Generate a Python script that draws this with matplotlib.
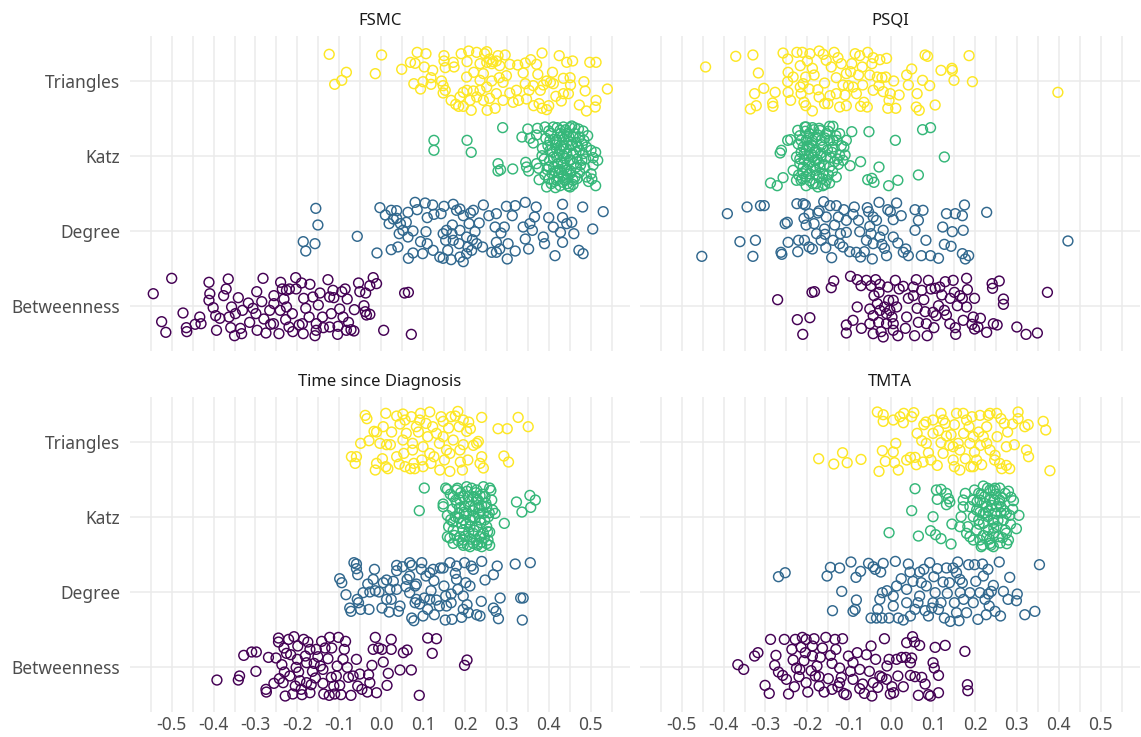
import matplotlib
matplotlib.use("Agg")
import matplotlib.pyplot as plt
import numpy as np

plt.rcParams['font.family'] = ['Noto Sans', 'DejaVu Sans']
plt.rcParams['axes.unicode_minus'] = False

categories = ["Betweenness", "Degree", "Katz", "Triangles"]
colors = ["#440154", "#31688E", "#35B779", "#FDE725"]
facets = ["FSMC", "PSQI", "Time since Diagnosis", "TMTA"]
x_ticks = [-0.5, -0.4, -0.3, -0.2, -0.1, 0.0, 0.1, 0.2, 0.3, 0.4, 0.5]
x_tick_labels = ["-0.5", "-0.4", "-0.3", "-0.2", "-0.1", "0.0", "0.1", "0.2", "0.3", "0.4", "0.5"]

# (correlation, vertical jitter) pairs
FSMC_TRIANGLES = [(-0.124,0.356),(0.001,0.347),(-0.083,0.116),(-0.094,0.009),(-0.111,-0.044),(-0.014,0.098),(0.049,0.156),(0.086,0.382),(0.107,0.364),(0.070,0.249),(0.081,0.236),(0.123,0.142),(0.103,0.187),(0.150,0.338),(0.150,0.267),(0.172,0.249),(0.153,0.178),(0.174,0.187),(0.119,0.044),(0.078,-0.036),(0.094,-0.107),(0.100,-0.009),(0.119,-0.044),(0.144,0.0),(0.148,-0.062),(0.153,-0.124),(0.148,-0.160),(0.167,-0.258),(0.178,-0.311),(0.185,-0.338),(0.196,-0.338),(0.215,-0.391),(0.253,-0.391),(0.272,-0.364),(0.191,0.364),(0.209,0.400),(0.228,0.382),(0.252,0.391),(0.279,0.338),(0.296,0.347),(0.205,0.258),(0.221,0.116),(0.236,0.231),(0.244,0.098),(0.252,0.249),(0.264,0.231),(0.275,0.267),(0.283,0.204),(0.307,0.222),(0.326,0.213),(0.344,0.240),(0.357,0.284),(0.371,0.222),(0.384,0.373),(0.425,0.338),(0.443,0.249),(0.457,0.267),(0.498,0.249),(0.513,0.249),(0.339,0.107),(0.374,0.089),(0.409,0.116),(0.435,0.036),(0.451,0.044),(0.484,-0.009),(0.540,-0.107),(0.487,-0.133),(0.513,-0.258),(0.490,-0.400),(0.511,-0.347),(0.473,-0.320),(0.452,-0.053),(0.447,-0.169),(0.430,-0.267),(0.417,-0.204),(0.404,-0.018),(0.395,0.0),(0.387,-0.053),(0.363,-0.062),(0.353,-0.124),(0.347,-0.240),(0.364,-0.329),(0.384,-0.364),(0.395,-0.382),(0.400,-0.329),(0.323,-0.124),(0.315,-0.284),(0.307,-0.160),(0.291,-0.018),(0.282,0.044),(0.264,0.0),(0.252,-0.080),(0.236,-0.124),(0.220,-0.133),(0.205,-0.124),(0.196,-0.151),(0.188,-0.213),(0.212,-0.258),(0.228,-0.213),(0.244,-0.258),(0.259,-0.231),(0.275,-0.169),(0.299,0.071),(0.328,-0.258),(0.344,-0.036),(0.377,-0.302),(0.435,-0.169),(0.411,-0.036),(0.380,-0.124),(0.291,-0.258),(0.236,0.009),(0.204,0.053),(0.247,0.364),(0.259,0.293),(0.267,0.258)]

FSMC_KATZ = [(0.126,0.209),(0.126,0.076),(0.205,0.209),(0.215,0.049),(0.290,0.378),(0.279,-0.102),(0.279,-0.200),(0.285,-0.182),(0.314,-0.173),(0.336,0.253),(0.350,0.360),(0.355,0.236),(0.373,0.369),(0.371,0.280),(0.363,0.173),(0.345,-0.084),(0.347,-0.147),(0.352,-0.200),(0.371,-0.102),(0.376,-0.164),(0.377,-0.316),(0.385,0.102),(0.389,-0.040),(0.393,0.236),(0.400,0.333),(0.401,-0.307),(0.395,-0.413),(0.406,-0.369),(0.411,0.387),(0.419,0.209),(0.427,0.342),(0.435,0.387),(0.443,0.298),(0.451,0.378),(0.458,0.253),(0.471,0.360),(0.474,0.253),(0.484,0.209),(0.490,0.120),(0.501,0.076),(0.512,0.049),(0.517,-0.058),(0.506,-0.120),(0.501,-0.236),(0.503,-0.307),(0.512,-0.396),(0.486,-0.156),(0.466,-0.147),(0.463,-0.280),(0.444,-0.369),(0.439,-0.324),(0.427,-0.396),(0.416,-0.422),(0.408,-0.236),(0.412,-0.147),(0.419,-0.013),(0.427,0.076),(0.435,0.138),(0.443,0.031),(0.451,-0.058),(0.435,-0.102),(0.443,-0.191),(0.458,0.031),(0.474,0.076),(0.468,-0.040),(0.479,-0.058),(0.454,0.138),(0.424,-0.218),(0.435,-0.262),(0.451,-0.236),(0.458,-0.324),(0.403,0.076),(0.411,-0.013),(0.400,-0.147),(0.391,-0.253),(0.391,0.387),(0.420,0.378),(0.482,0.333),(0.493,0.271),(0.506,-0.022),(0.462,0.378),(0.432,0.253),(0.447,0.200),(0.466,0.182),(0.416,0.147),(0.474,-0.218),(0.490,-0.280),(0.419,-0.324),(0.451,-0.413),(0.403,0.209),(0.482,0.031),(0.384,0.004),(0.435,0.004),(0.422,-0.102),
    (0.405,0.30),(0.412,0.22),(0.418,0.10),(0.425,0.02),(0.430,-0.08),(0.438,-0.16),(0.445,-0.30),(0.452,-0.20),(0.460,-0.10),(0.465,0.05),(0.455,0.16),(0.448,0.26),(0.440,0.35),(0.428,0.30),(0.420,0.18),(0.409,0.05),(0.402,-0.06),(0.415,-0.20),(0.422,-0.28),(0.433,-0.35),(0.447,-0.40),(0.458,-0.38),(0.468,-0.30),(0.476,-0.12),(0.470,0.12),(0.462,0.30),(0.436,0.22),(0.442,0.10),(0.429,0.14),(0.437,-0.03),(0.450,-0.05),(0.444,-0.24),(0.426,-0.18),(0.413,-0.34),(0.398,0.14),(0.396,-0.18),(0.480,0.16),(0.488,-0.04),(0.495,-0.34),(0.455,0.40)]

FSMC_DEGREE = [(-0.156,0.302),(-0.151,0.080),(-0.186,-0.142),(-0.180,-0.267),(-0.158,-0.169),(-0.057,-0.071),(-0.010,-0.293),(-0.003,0.311),(0.010,0.213),(0.024,0.276),(0.037,0.271),(0.019,0.098),(0.029,0.160),(0.037,0.169),(0.046,0.098),(0.043,-0.036),(0.052,0.009),(0.060,0.116),(0.064,0.249),(0.081,0.382),(0.086,0.284),(0.105,0.373),(0.123,0.347),(0.110,0.178),(0.126,0.222),(0.143,0.231),(0.150,0.329),(0.172,0.356),(0.188,0.293),(0.196,0.204),(0.213,0.240),(0.244,0.347),(0.257,0.204),(0.275,0.231),(0.299,0.329),(0.320,0.338),(0.344,0.382),(0.370,0.320),(0.400,0.178),(0.433,0.356),(0.481,0.320),(0.530,0.258),(0.505,0.027),(0.460,-0.036),(0.428,-0.018),(0.433,0.178),(0.455,0.116),(0.433,-0.151),(0.415,-0.329),(0.472,-0.258),(0.482,-0.302),(0.387,-0.080),(0.390,-0.169),(0.355,0.098),(0.361,0.009),(0.344,-0.107),(0.352,-0.240),(0.320,-0.267),(0.313,0.204),(0.294,0.053),(0.286,-0.027),(0.275,-0.151),(0.283,-0.240),(0.264,-0.284),(0.275,-0.284),(0.301,-0.373),(0.272,0.053),(0.234,0.107),(0.224,-0.009),(0.218,-0.116),(0.228,-0.169),(0.216,-0.258),(0.196,-0.409),(0.188,-0.347),(0.167,-0.382),(0.148,-0.364),(0.140,-0.347),(0.159,-0.258),(0.172,-0.124),(0.170,0.080),(0.188,0.009),(0.204,-0.080),(0.207,-0.213),(0.186,-0.169),(0.169,-0.036),(0.148,-0.036),(0.156,0.009),(0.154,-0.124),(0.124,-0.258),(0.099,-0.302),(0.110,-0.169),(0.107,-0.009),(0.094,-0.142),(0.076,-0.293),(0.065,-0.364),(0.064,-0.080),(0.076,0.0),(0.024,-0.249),(0.040,-0.213),(0.210,0.098),(0.220,0.276),(0.180,0.276),(0.242,-0.213),(0.303,-0.169),(0.339,0.053),(0.411,0.053),(0.443,0.098),(0.366,0.187),(0.204,-0.302)]

FSMC_BETWEENNESS = [(-0.544,0.164),(-0.500,0.369),(-0.524,-0.209),(-0.514,-0.351),(-0.473,-0.093),(-0.465,-0.289),(-0.464,-0.342),(-0.444,-0.244),(-0.433,-0.147),(-0.430,-0.236),(-0.411,0.316),(-0.409,0.164),(-0.411,0.076),(-0.401,-0.022),(-0.395,-0.129),(-0.385,-0.164),(-0.376,0.138),(-0.370,0.227),(-0.365,0.360),(-0.363,-0.147),(-0.359,-0.289),(-0.357,-0.013),(-0.350,-0.396),(-0.341,0.111),(-0.336,-0.298),(-0.333,-0.369),(-0.348,-0.102),(-0.331,-0.058),(-0.317,0.040),(-0.306,-0.031),(-0.297,0.191),(-0.299,-0.102),(-0.296,-0.324),(-0.285,0.058),(-0.282,0.369),(-0.280,-0.173),(-0.275,-0.360),(-0.264,-0.244),(-0.256,0.031),(-0.256,0.138),(-0.244,-0.369),(-0.240,0.316),(-0.236,0.227),(-0.232,0.093),(-0.226,-0.013),(-0.228,-0.182),(-0.219,0.227),(-0.212,-0.102),(-0.211,-0.342),(-0.204,0.378),(-0.203,0.227),(-0.196,-0.253),(-0.190,0.307),(-0.185,0.102),(-0.180,-0.031),(-0.186,-0.369),(-0.170,0.289),(-0.158,-0.396),(-0.155,-0.236),(-0.150,0.013),(-0.146,0.173),(-0.140,-0.147),(-0.138,-0.289),(-0.127,0.351),(-0.123,0.120),(-0.119,-0.102),(-0.113,0.111),(-0.103,-0.271),(-0.104,-0.378),(-0.099,-0.040),(-0.094,0.191),(-0.086,0.227),(-0.081,0.093),(-0.078,-0.218),(-0.072,-0.316),(-0.065,-0.333),(-0.064,-0.049),(-0.054,0.307),(-0.051,0.191),(-0.041,0.004),(-0.038,-0.076),(-0.035,-0.120),(-0.027,-0.111),(-0.027,0.271),(-0.019,0.378),(-0.011,0.298),(-0.037,0.173),(0.006,-0.324),(0.056,0.173),(0.065,0.182),(0.072,-0.378),(-0.163,0.120),(-0.241,-0.058),(-0.266,-0.058),(-0.314,-0.218),(-0.172,-0.147),(-0.091,-0.147),(-0.220,-0.280),(-0.188,-0.236),(-0.123,-0.280),(-0.083,-0.324),(-0.393,-0.324),(-0.257,-0.236),(-0.155,-0.324),(-0.226,0.209),(-0.115,0.209)]

PSQI_TRIANGLES = [(-0.443,0.187),(-0.371,0.329),(-0.330,0.347),(-0.317,0.107),(-0.304,-0.098),(-0.326,-0.169),(-0.336,-0.373),(-0.322,-0.329),(-0.283,-0.293),(-0.282,-0.338),(-0.277,-0.151),(-0.258,0.373),(-0.247,0.293),(-0.246,0.116),(-0.247,-0.009),(-0.246,-0.151),(-0.240,-0.258),(-0.225,0.382),(-0.217,0.204),(-0.212,0.382),(-0.210,-0.036),(-0.215,-0.169),(-0.208,-0.284),(-0.204,-0.329),(-0.200,0.267),(-0.194,0.364),(-0.188,0.169),(-0.184,0.080),(-0.196,-0.107),(-0.188,-0.400),(-0.175,-0.116),(-0.172,0.400),(-0.162,0.356),(-0.159,-0.027),(-0.159,-0.302),(-0.151,-0.302),(-0.146,-0.196),(-0.143,0.187),(-0.136,0.382),(-0.131,0.044),(-0.127,0.311),(-0.123,-0.347),(-0.119,0.231),(-0.115,-0.053),(-0.110,-0.187),(-0.107,-0.329),(-0.102,-0.062),(-0.097,0.124),(-0.094,0.231),(-0.091,-0.080),(-0.086,0.364),(-0.078,0.080),(-0.075,0.338),(-0.073,-0.338),(-0.069,0.187),(-0.068,-0.053),(-0.065,-0.284),(-0.057,-0.347),(-0.056,0.382),(-0.051,0.080),(-0.046,0.231),(-0.043,0.311),(-0.033,0.053),(-0.029,-0.062),(-0.027,0.284),(-0.022,0.044),(-0.013,0.053),(-0.011,0.302),(-0.008,-0.364),(-0.005,-0.258),(0.006,0.0),(-0.019,-0.142),(-0.002,-0.169),(0.011,-0.364),(0.019,-0.187),(0.037,0.080),(0.041,-0.053),(0.049,0.160),(0.062,-0.169),(0.060,-0.347),(0.067,-0.391),(0.075,0.009),(0.081,0.347),(0.087,0.329),(0.092,-0.062),(0.105,-0.320),(0.119,0.142),(0.145,0.169),(0.146,0.142),(0.150,0.009),(0.186,0.338),(0.194,-0.009),(0.398,-0.151),(-0.234,0.053),(-0.204,0.053),(-0.155,0.276),(-0.107,0.098),(-0.131,-0.169),(-0.217,-0.080),(-0.043,-0.124),(-0.083,-0.169),(-0.172,-0.213)]

PSQI_KATZ = [(-0.094,0.324),(-0.053,0.324),(0.010,0.209),(0.075,0.351),(0.094,0.378),(0.127,-0.013),(0.065,-0.253),(0.016,-0.324),(-0.006,-0.396),(-0.029,-0.147),(-0.041,-0.351),(-0.056,-0.316),(-0.046,-0.298),(-0.073,-0.076),(-0.098,-0.129),(-0.288,-0.360),(-0.272,-0.396),(-0.258,-0.289),(-0.262,0.076),(-0.265,0.040),(-0.247,0.209),(-0.240,0.218),(-0.234,-0.191),(-0.223,0.342),(-0.218,0.271),(-0.210,0.120),(-0.206,0.387),(-0.203,0.209),(-0.195,0.298),(-0.188,0.378),(-0.180,0.253),(-0.172,0.369),(-0.167,0.209),(-0.155,0.298),(-0.147,0.396),(-0.139,0.396),(-0.129,0.209),(-0.119,0.138),(-0.113,0.120),(-0.110,0.013),(-0.123,0.009),(-0.135,-0.076),(-0.126,-0.111),(-0.147,-0.147),(-0.150,-0.253),(-0.147,-0.360),(-0.163,-0.396),(-0.175,-0.413),(-0.187,-0.369),(-0.203,-0.396),(-0.215,-0.324),(-0.221,-0.253),(-0.226,-0.013),(-0.218,-0.040),(-0.207,0.031),(-0.197,-0.102),(-0.187,-0.013),(-0.180,0.076),(-0.172,-0.102),(-0.180,-0.191),(-0.195,-0.236),(-0.163,-0.236),(-0.155,-0.013),(-0.163,0.120),(-0.195,0.120),(-0.210,-0.147),(-0.155,-0.324),(-0.141,0.049),(-0.188,0.209),(-0.139,0.209),(-0.123,0.298),(-0.107,0.209),(-0.203,0.387),(-0.172,-0.280),(-0.203,-0.280),(-0.215,0.209),(-0.183,-0.058),(-0.197,0.004),(-0.167,0.004),(-0.210,-0.236),(-0.226,-0.324),(-0.115,-0.058),(-0.131,-0.280),(-0.147,0.209),(-0.203,0.076),
    (-0.205,0.33),(-0.198,0.24),(-0.190,0.15),(-0.183,0.05),(-0.176,-0.05),(-0.170,-0.15),(-0.164,-0.30),(-0.158,-0.38),(-0.150,0.33),(-0.158,0.24),(-0.166,0.15),(-0.175,0.28),(-0.185,0.35),(-0.196,-0.08),(-0.202,-0.18),(-0.212,-0.30),(-0.194,-0.33),(-0.178,-0.25),(-0.160,-0.12),(-0.145,-0.02),(-0.139,0.12),(-0.132,0.27),(-0.152,0.08),(-0.186,-0.15),(-0.200,0.13),(-0.215,0.05),(-0.222,0.16),(-0.218,-0.10),(-0.170,0.34),(-0.180,-0.37),(-0.140,-0.20),(-0.128,-0.04),(-0.190,0.02),(-0.168,0.04),(-0.208,-0.05),(-0.195,0.30)]

PSQI_DEGREE = [(-0.452,-0.338),(-0.391,0.231),(-0.361,-0.142),(-0.344,0.320),(-0.330,-0.338),(-0.324,-0.124),(-0.312,0.338),(-0.303,0.338),(-0.263,-0.284),(-0.261,-0.311),(-0.253,0.098),(-0.248,0.116),(-0.246,-0.151),(-0.225,0.364),(-0.223,-0.276),(-0.221,-0.124),(-0.210,0.364),(-0.208,0.169),(-0.207,-0.124),(-0.205,0.347),(-0.203,0.080),(-0.196,0.231),(-0.196,-0.213),(-0.188,-0.240),(-0.184,0.098),(-0.175,0.240),(-0.172,0.267),(-0.167,-0.124),(-0.161,0.391),(-0.159,0.027),(-0.158,-0.044),(-0.156,-0.222),(-0.146,0.338),(-0.142,-0.356),(-0.135,0.080),(-0.131,0.338),(-0.126,0.187),(-0.121,-0.036),(-0.115,-0.213),(-0.113,0.284),(-0.107,-0.018),(-0.099,-0.276),(-0.091,0.222),(-0.088,0.320),(-0.083,-0.284),(-0.078,0.142),(-0.075,-0.009),(-0.073,-0.347),(-0.064,-0.276),(-0.057,0.311),(-0.054,0.258),(-0.051,0.062),(-0.048,-0.036),(-0.045,-0.373),(-0.043,-0.169),(-0.035,0.142),(-0.029,0.382),(-0.027,-0.080),(-0.022,-0.178),(-0.019,0.009),(-0.016,-0.231),(-0.011,-0.329),(-0.008,0.284),(-0.002,0.258),(0.005,0.151),(0.013,0.373),(0.016,-0.160),(0.024,0.204),(0.029,-0.284),(0.035,-0.240),(0.041,-0.329),(0.057,0.284),(0.057,0.009),(0.065,0.142),(0.072,-0.329),(0.076,0.276),(0.083,-0.124),(0.094,-0.329),(0.113,-0.364),(0.123,0.053),(0.127,-0.178),(0.132,0.231),(0.143,-0.204),(0.146,-0.009),(0.153,0.231),(0.170,0.204),(0.172,0.009),(0.175,0.347),(0.170,-0.302),(0.185,-0.329),(0.177,-0.373),(0.228,0.249),(0.422,-0.133),(-0.155,0.187),(-0.107,0.142),(-0.043,0.187),(-0.059,-0.124),(-0.123,-0.169),(-0.178,-0.036),(0.005,-0.080),(-0.139,-0.124)]

PSQI_BETWEENNESS = [(-0.271,0.084),(-0.224,-0.182),(-0.211,-0.378),(-0.194,-0.156),(-0.189,0.182),(-0.183,0.191),(-0.143,0.244),(-0.137,0.333),(-0.107,-0.253),(-0.107,-0.360),(-0.097,0.396),(-0.091,-0.191),(-0.081,-0.013),(-0.081,0.351),(-0.072,0.271),(-0.071,-0.298),(-0.059,0.342),(-0.051,-0.040),(-0.048,0.271),(-0.043,-0.129),(-0.041,0.138),(-0.037,0.351),(-0.033,0.031),(-0.030,-0.218),(-0.029,0.182),(-0.027,0.289),(-0.024,-0.342),(-0.019,-0.413),(-0.016,-0.013),(-0.011,-0.102),(-0.008,0.253),(-0.006,0.076),(-0.003,-0.058),(0.002,-0.147),(0.005,-0.236),(0.010,0.342),(0.013,-0.013),(0.016,-0.396),(0.019,0.227),(0.029,0.262),(0.034,-0.298),(0.041,0.102),(0.053,0.138),(0.056,-0.396),(0.060,0.351),(0.062,-0.031),(0.065,-0.218),(0.073,0.209),(0.078,0.084),(0.081,-0.076),(0.086,-0.396),(0.089,0.342),(0.095,0.227),(0.100,-0.084),(0.102,-0.289),(0.105,0.236),(0.107,-0.129),(0.113,0.004),(0.121,0.147),(0.127,-0.058),(0.129,0.324),(0.132,-0.120),(0.141,0.102),(0.148,0.342),(0.151,0.182),(0.153,-0.289),(0.154,-0.378),(0.158,0.004),(0.164,0.138),(0.170,0.102),(0.172,-0.191),(0.180,0.369),(0.182,0.218),(0.193,-0.244),(0.199,0.102),(0.199,-0.307),(0.207,-0.280),(0.213,-0.164),(0.228,-0.351),(0.241,0.298),(0.242,0.236),(0.244,-0.236),(0.253,-0.253),(0.258,0.333),(0.268,0.093),(0.268,0.022),(0.300,-0.280),(0.322,-0.378),(0.349,-0.360),(0.373,0.182),(-0.043,-0.369),(0.005,-0.324),(0.037,-0.147),(-0.011,-0.236),(-0.027,-0.058),(0.053,0.253),(0.116,0.253),(0.180,-0.013),(0.084,-0.236),(0.140,-0.236),(0.196,-0.147),(0.005,0.076),(-0.051,-0.236)]

TSD_TRIANGLES = [(-0.038,0.351),(-0.034,0.307),(0.011,0.378),(-0.071,-0.200),(-0.059,-0.200),(-0.062,-0.289),(-0.049,-0.022),(-0.029,0.013),(-0.017,0.138),(-0.011,0.129),(-0.003,-0.022),(-0.014,-0.378),(-0.011,-0.289),(0.003,-0.227),(0.011,-0.333),(0.016,-0.360),(0.013,-0.040),(0.022,-0.040),(0.005,0.200),(0.025,0.129),(0.037,0.342),(0.043,-0.298),(0.045,0.236),(0.052,0.369),(0.057,0.289),(0.060,0.111),(0.054,-0.156),(0.057,-0.333),(0.070,-0.360),(0.075,-0.022),(0.078,-0.289),(0.072,0.333),(0.080,-0.360),(0.084,0.200),(0.089,0.129),(0.094,0.378),(0.097,-0.244),(0.100,-0.067),(0.107,0.244),(0.111,0.067),(0.116,0.396),(0.119,-0.289),(0.123,0.200),(0.126,-0.200),(0.132,0.111),(0.139,-0.022),(0.140,-0.378),(0.143,0.333),(0.148,0.271),(0.151,-0.244),(0.156,-0.111),(0.161,0.182),(0.164,-0.396),(0.167,0.333),(0.172,0.022),(0.177,0.342),(0.183,0.404),(0.186,0.200),(0.189,-0.271),(0.194,-0.378),(0.196,-0.040),(0.204,0.138),(0.209,0.262),(0.213,0.173),(0.220,-0.049),(0.228,-0.022),(0.232,0.004),(0.236,-0.289),(0.240,0.324),(0.240,-0.200),(0.244,-0.351),(0.207,-0.244),(0.279,0.173),(0.301,0.173),(0.293,-0.191),(0.304,-0.271),(0.327,0.324),(0.351,0.200),(0.116,-0.156),(0.100,-0.333),(0.164,-0.156),(0.052,0.022),(0.075,-0.111),(0.188,-0.111),(0.148,0.067),(0.037,-0.200),(0.196,0.289),(0.092,0.289)]

TSD_KATZ = [(0.103,0.382),(0.091,0.080),(0.323,0.196),(0.336,0.062),(0.355,0.284),(0.357,0.124),(0.368,0.222),(0.294,-0.089),(0.272,0.044),(0.259,-0.204),(0.259,0.382),(0.154,0.382),(0.158,0.364),(0.148,0.169),(0.148,0.133),(0.158,0.018),(0.161,-0.133),(0.158,-0.267),(0.164,-0.284),(0.172,-0.178),(0.180,0.356),(0.188,0.222),(0.186,0.044),(0.192,-0.089),(0.196,-0.311),(0.196,-0.382),(0.204,0.400),(0.207,0.267),(0.212,0.133),(0.212,-0.044),(0.209,-0.204),(0.220,-0.356),(0.228,0.356),(0.231,0.222),(0.232,0.044),(0.228,-0.133),(0.236,-0.267),(0.240,-0.400),(0.244,0.400),(0.248,0.267),(0.252,0.133),(0.247,-0.044),(0.252,-0.133),(0.255,-0.311),(0.259,-0.382),(0.264,0.222),(0.266,0.089),(0.180,0.178),(0.177,0.0),(0.196,0.267),(0.220,0.267),(0.204,0.044),(0.220,0.0),(0.236,-0.044),(0.196,-0.178),(0.220,-0.222),(0.244,-0.222),(0.172,-0.356),(0.188,-0.267),(0.212,-0.400),(0.231,-0.356),(0.240,0.151),(0.224,0.133),(0.199,0.133),(0.172,0.267),(0.244,0.044),(0.228,-0.311),(0.172,-0.071),(0.212,-0.133),(0.256,0.0),(0.196,-0.044),
    (0.165,0.30),(0.170,0.10),(0.175,-0.25),(0.182,0.38),(0.185,-0.02),(0.190,0.32),(0.193,-0.35),(0.198,0.06),(0.202,-0.10),(0.205,0.34),(0.210,0.20),(0.214,-0.30),(0.218,0.08),(0.222,-0.18),(0.226,0.32),(0.230,-0.38),(0.234,0.12),(0.238,-0.08),(0.242,0.30),(0.246,-0.28),(0.250,0.18),(0.254,-0.20),(0.258,0.05),(0.262,0.35),(0.166,-0.04),(0.178,0.22),(0.187,0.12),(0.200,-0.26),(0.216,0.38),(0.228,0.24),(0.240,-0.34),(0.252,-0.36),(0.206,-0.38),(0.184,-0.32),(0.224,-0.02),(0.236,0.28)]

TSD_DEGREE = [(-0.099,0.173),(-0.094,0.120),(-0.084,-0.040),(-0.075,-0.218),(-0.072,-0.262),(-0.065,0.387),(-0.059,0.369),(-0.059,0.307),(-0.056,0.227),(-0.057,-0.102),(-0.054,-0.147),(-0.049,-0.236),(-0.043,-0.013),(-0.029,-0.236),(-0.032,0.102),(-0.027,-0.004),(-0.016,0.298),(-0.014,0.013),(-0.005,-0.004),(0.002,-0.218),(0.005,0.120),(0.013,0.156),(0.019,-0.271),(0.024,-0.102),(0.029,0.138),(0.037,0.351),(0.037,0.280),(0.041,-0.262),(0.045,-0.191),(0.051,0.333),(0.059,0.067),(0.062,0.164),(0.068,-0.013),(0.068,0.387),(0.073,0.351),(0.073,-0.351),(0.078,-0.387),(0.081,0.076),(0.081,-0.147),(0.084,0.102),(0.092,-0.164),(0.096,0.298),(0.097,0.387),(0.100,-0.324),(0.103,-0.084),(0.107,0.209),(0.111,-0.236),(0.116,0.253),(0.119,0.013),(0.126,0.147),(0.127,-0.307),(0.132,-0.111),(0.139,-0.191),(0.141,0.316),(0.148,0.316),(0.150,0.076),(0.153,-0.378),(0.154,-0.058),(0.164,0.387),(0.167,-0.031),(0.167,-0.147),(0.169,-0.369),(0.177,0.244),(0.180,0.164),(0.183,0.031),(0.192,-0.342),(0.196,-0.058),(0.199,0.387),(0.202,0.120),(0.205,-0.173),(0.208,-0.280),(0.215,0.342),(0.220,0.298),(0.228,-0.307),(0.236,-0.324),(0.239,-0.129),(0.240,0.404),(0.248,0.156),(0.268,0.227),(0.268,-0.218),(0.274,-0.262),(0.277,0.342),(0.280,-0.360),(0.284,-0.084),(0.320,0.369),(0.333,-0.084),(0.339,-0.084),(0.337,-0.378),(0.356,0.387),(0.084,-0.102),(0.037,0.031),(0.116,-0.102),(0.156,-0.191),(0.196,-0.236),(0.021,0.031),(0.068,0.209),(0.124,0.298),(0.180,0.342),(0.212,0.076),(-0.019,0.164),(0.013,-0.102)]

TSD_BETWEENNESS = [(-0.392,-0.178),(-0.341,-0.178),(-0.338,-0.124),(-0.328,0.151),(-0.309,0.196),(-0.298,0.196),(-0.299,-0.062),(-0.275,-0.302),(-0.274,-0.338),(-0.269,0.124),(-0.256,-0.222),(-0.251,0.116),(-0.245,0.382),(-0.245,0.329),(-0.243,-0.160),(-0.237,0.027),(-0.232,0.249),(-0.231,-0.071),(-0.229,-0.391),(-0.226,0.178),(-0.221,0.364),(-0.216,0.160),(-0.211,-0.364),(-0.208,0.400),(-0.205,-0.258),(-0.203,-0.009),(-0.199,0.276),(-0.197,-0.071),(-0.194,-0.187),(-0.191,-0.302),(-0.189,-0.373),(-0.185,0.364),(-0.181,0.142),(-0.178,0.053),(-0.175,0.329),(-0.170,0.231),(-0.167,-0.240),(-0.164,-0.062),(-0.160,0.044),(-0.157,-0.151),(-0.151,0.133),(-0.145,0.009),(-0.142,0.338),(-0.139,-0.222),(-0.137,-0.364),(-0.134,0.249),(-0.127,0.107),(-0.124,-0.382),(-0.123,0.391),(-0.119,-0.142),(-0.118,0.249),(-0.113,-0.258),(-0.111,-0.364),(-0.105,0.009),(-0.102,0.391),(-0.099,-0.249),(-0.096,-0.373),(-0.088,0.231),(-0.085,0.338),(-0.081,-0.009),(-0.078,-0.142),(-0.072,-0.382),(-0.067,-0.124),(-0.059,0.098),(-0.056,-0.258),(-0.051,-0.098),(-0.046,-0.302),(-0.033,-0.338),(-0.030,-0.107),(-0.022,0.018),(-0.019,0.231),(-0.014,0.391),(-0.011,-0.347),(-0.006,0.249),(0.002,0.231),(0.005,0.062),(0.014,-0.249),(0.017,-0.089),(0.024,0.364),(0.024,0.231),(0.045,-0.044),(0.053,0.187),(0.062,0.222),(0.072,-0.044),(0.091,-0.382),(0.111,0.382),(0.132,0.373),(0.122,0.178),(0.199,0.018),(0.205,0.089),(-0.218,-0.124),(-0.178,-0.213),(-0.139,-0.036),(-0.107,-0.124),(-0.200,0.098),(-0.155,0.231),(-0.027,-0.213),(-0.091,0.098),(-0.170,-0.347),(-0.234,-0.213)]

TMTA_TRIANGLES = [(-0.173,-0.227),(-0.137,-0.298),(-0.116,-0.147),(-0.105,-0.280),(-0.072,-0.236),(-0.033,0.396),(-0.019,0.360),(-0.019,0.271),(-0.021,-0.120),(-0.014,-0.262),(-0.029,-0.396),(0.005,-0.138),(0.008,-0.280),(0.011,-0.022),(0.017,-0.378),(0.005,0.289),(0.021,0.333),(0.030,0.378),(0.029,0.253),(0.049,0.333),(0.054,0.387),(0.046,-0.209),(0.057,-0.209),(0.060,-0.307),(0.062,0.111),(0.073,0.013),(0.076,-0.271),(0.078,0.227),(0.083,0.262),(0.089,-0.147),(0.095,-0.244),(0.100,0.111),(0.110,-0.316),(0.113,0.147),(0.119,-0.013),(0.119,0.378),(0.124,0.289),(0.129,0.244),(0.124,-0.156),(0.132,0.076),(0.139,-0.049),(0.143,0.093),(0.148,-0.244),(0.151,0.227),(0.156,0.378),(0.151,-0.333),(0.160,-0.022),(0.164,-0.378),(0.172,0.378),(0.173,0.111),(0.177,-0.227),(0.180,0.289),(0.186,0.200),(0.188,-0.022),(0.190,-0.333),(0.193,0.333),(0.196,0.067),(0.199,-0.138),(0.204,-0.244),(0.209,0.129),(0.212,0.351),(0.213,-0.049),(0.216,-0.307),(0.220,0.067),(0.228,-0.022),(0.232,0.351),(0.236,0.378),(0.247,-0.244),(0.248,-0.182),(0.252,0.378),(0.253,0.067),(0.259,-0.289),(0.262,0.307),(0.264,-0.360),(0.270,0.244),(0.275,-0.316),(0.278,0.129),(0.283,-0.360),(0.290,0.236),(0.294,-0.040),(0.303,0.396),(0.303,0.307),(0.319,0.200),(0.327,0.227),(0.323,-0.111),(0.328,-0.200),(0.363,0.271),(0.369,0.156),(0.379,-0.387),(0.100,0.289),(0.164,-0.111),(0.236,-0.111),(0.196,-0.333),(0.148,-0.067),(0.275,-0.067),(0.084,-0.022),(0.228,0.200),(0.037,-0.244)]

TMTA_KATZ = [(0.057,0.373),(0.049,0.080),(-0.005,-0.213),(0.065,-0.258),(0.100,0.0),(0.094,-0.187),(0.106,-0.240),(0.119,-0.293),(0.143,-0.364),(0.145,-0.098),(0.108,0.356),(0.119,0.364),(0.110,0.231),(0.132,0.311),(0.137,0.240),(0.140,0.196),(0.132,0.160),(0.167,0.0),(0.172,0.133),(0.177,0.311),(0.183,-0.133),(0.188,-0.267),(0.196,0.222),(0.199,0.356),(0.204,0.089),(0.209,-0.044),(0.212,-0.311),(0.215,-0.400),(0.220,0.409),(0.223,0.267),(0.228,0.133),(0.231,0.0),(0.232,-0.178),(0.236,-0.356),(0.244,0.356),(0.247,0.222),(0.248,0.044),(0.252,-0.133),(0.256,-0.267),(0.259,0.382),(0.262,0.133),(0.268,-0.044),(0.272,-0.178),(0.275,0.044),(0.280,-0.311),(0.283,0.018),(0.292,0.213),(0.299,-0.160),(0.305,0.018),(0.272,0.311),(0.196,-0.311),(0.188,0.133),(0.212,0.222),(0.236,0.222),(0.220,-0.089),(0.244,-0.222),(0.228,-0.267),(0.244,-0.400),(0.204,-0.178),(0.180,-0.222),(0.164,-0.133),(0.172,0.222),(0.259,0.222),(0.196,0.0),(0.220,0.044),(0.252,0.133),(0.236,0.356),(0.244,-0.044),(0.209,0.311),
    (0.205,0.20),(0.210,-0.10),(0.215,0.30),(0.220,-0.25),(0.225,0.05),(0.230,0.38),(0.235,-0.30),(0.240,0.15),(0.245,-0.15),(0.250,0.30),(0.255,-0.05),(0.260,-0.35),(0.265,0.25),(0.270,0.08),(0.275,-0.22),(0.280,0.34),(0.285,-0.10),(0.290,0.10),(0.222,0.18),(0.238,-0.38),(0.248,0.38),(0.258,0.18),(0.266,-0.28),(0.232,0.08),(0.218,-0.38),(0.276,-0.36),(0.286,0.26),(0.244,-0.08),(0.262,0.05),(0.212,0.06)]

TMTA_DEGREE = [(-0.269,0.200),(-0.253,0.253),(-0.153,0.209),(-0.145,0.324),(-0.140,-0.253),(-0.123,0.316),(-0.118,0.004),(-0.096,0.396),(-0.091,-0.262),(-0.086,-0.236),(-0.084,0.191),(-0.083,-0.111),(-0.073,0.271),(-0.054,0.378),(-0.048,-0.351),(-0.043,0.333),(-0.038,0.298),(-0.035,-0.351),(-0.032,-0.236),(-0.025,0.262),(-0.022,-0.351),(-0.019,0.378),(-0.021,-0.013),(-0.010,0.013),(-0.005,-0.351),(0.005,-0.191),(0.010,0.404),(0.013,0.076),(0.017,-0.351),(0.024,0.173),(0.029,-0.378),(0.037,0.031),(0.037,-0.147),(0.041,0.369),(0.045,0.262),(0.046,-0.324),(0.052,0.138),(0.057,-0.236),(0.064,-0.147),(0.068,0.262),(0.072,0.120),(0.078,0.298),(0.081,-0.253),(0.084,0.076),(0.089,-0.324),(0.092,0.387),(0.097,-0.218),(0.102,0.200),(0.105,-0.013),(0.110,0.307),(0.113,-0.236),(0.119,-0.147),(0.124,0.129),(0.127,-0.351),(0.132,0.316),(0.134,-0.022),(0.139,0.120),(0.141,-0.396),(0.148,0.316),(0.151,-0.147),(0.156,0.253),(0.159,0.396),(0.162,-0.387),(0.165,-0.013),(0.170,0.120),(0.173,-0.102),(0.180,-0.280),(0.185,0.360),(0.188,-0.013),(0.199,0.360),(0.202,0.138),(0.207,-0.369),(0.218,0.369),(0.220,0.209),(0.224,-0.102),(0.227,-0.307),(0.231,0.298),(0.234,-0.191),(0.239,0.004),(0.244,0.084),(0.248,-0.262),(0.258,0.396),(0.261,-0.324),(0.268,0.004),(0.279,-0.102),(0.283,0.191),(0.299,-0.120),(0.301,-0.031),(0.319,-0.307),(0.343,-0.262),(0.354,0.360),(0.232,-0.031),(0.005,-0.058),(0.068,-0.058),(0.100,-0.147),(0.156,-0.280),(0.196,-0.147),(-0.027,-0.102),(0.164,0.164),(0.212,-0.013)]

TMTA_BETWEENNESS = [(-0.366,0.027),(-0.352,-0.036),(-0.326,0.142),(-0.318,0.187),(-0.301,-0.249),(-0.291,-0.356),(-0.288,0.364),(-0.275,0.151),(-0.278,0.018),(-0.269,-0.071),(-0.259,-0.116),(-0.255,0.364),(-0.250,-0.169),(-0.245,-0.364),(-0.237,0.231),(-0.234,0.089),(-0.231,-0.267),(-0.229,0.364),(-0.226,-0.018),(-0.220,-0.133),(-0.215,0.258),(-0.212,0.391),(-0.208,0.080),(-0.205,0.187),(-0.203,0.364),(-0.199,-0.338),(-0.191,-0.053),(-0.188,0.276),(-0.184,0.373),(-0.181,-0.124),(-0.177,0.009),(-0.172,-0.258),(-0.169,0.124),(-0.164,0.249),(-0.160,-0.338),(-0.156,0.391),(-0.150,-0.160),(-0.145,0.151),(-0.141,0.044),(-0.134,0.364),(-0.132,0.231),(-0.127,-0.267),(-0.123,-0.018),(-0.119,-0.142),(-0.116,0.373),(-0.113,-0.356),(-0.107,-0.373),(-0.102,0.142),(-0.097,-0.062),(-0.091,-0.169),(-0.081,0.187),(-0.075,-0.293),(-0.068,-0.231),(-0.064,-0.356),(-0.059,0.160),(-0.052,-0.062),(-0.048,0.276),(-0.046,-0.391),(-0.037,0.098),(-0.032,-0.276),(-0.027,-0.124),(-0.022,-0.142),(-0.016,0.373),(-0.010,0.009),(-0.005,0.098),(-0.002,-0.364),(0.002,-0.267),(0.006,-0.347),(0.013,0.098),(0.016,-0.124),(0.025,0.124),(0.029,-0.267),(0.035,0.124),(0.037,0.320),(0.046,0.053),(0.049,0.116),(0.051,0.400),(0.056,0.329),(0.068,0.284),(0.046,-0.116),(0.057,-0.133),(0.073,-0.142),(0.081,-0.231),(0.065,-0.382),(0.089,-0.373),(0.094,-0.391),(0.100,0.053),(0.103,-0.018),(0.105,0.258),(0.113,-0.116),(0.113,-0.347),(0.129,0.284),(0.176,0.204),(0.182,-0.240),(0.183,-0.320),(-0.203,-0.213),(-0.172,-0.133),(-0.123,-0.213),(-0.075,-0.036),(-0.141,-0.302),(-0.188,0.142),(-0.091,0.053),(-0.043,-0.213),(-0.218,-0.036),(-0.011,-0.169)]

panel_data = [
    [FSMC_BETWEENNESS, FSMC_DEGREE, FSMC_KATZ, FSMC_TRIANGLES],
    [PSQI_BETWEENNESS, PSQI_DEGREE, PSQI_KATZ, PSQI_TRIANGLES],
    [TSD_BETWEENNESS, TSD_DEGREE, TSD_KATZ, TSD_TRIANGLES],
    [TMTA_BETWEENNESS, TMTA_DEGREE, TMTA_KATZ, TMTA_TRIANGLES],
]

W, H = 1141, 737
fig = plt.figure(figsize=(W / 100, H / 100), dpi=100)
fig.patch.set_facecolor("white")

pw = 500.2 / W
ph = 315.0 / H
lefts = [129.8 / W, 639.8 / W]
bottoms = [1 - 351.0 / H, 1 - 711.7 / H]

grid_col = "#EBEBEB"
minor_pos = np.round(np.arange(-0.55, 0.56, 0.1), 2)

for i, name in enumerate(facets):
    r, c = divmod(i, 2)
    ax = fig.add_axes([lefts[c], bottoms[r], pw, ph])
    ax.set_xlim(-0.6, 0.594)
    ax.set_ylim(0.4, 4.6)
    for s in ax.spines.values():
        s.set_visible(False)
    for xv in x_ticks:
        ax.axvline(xv, color=grid_col, lw=1.1, zorder=0)
    for xv in minor_pos:
        ax.axvline(xv, color=grid_col, lw=1.1, zorder=0)
    for k in range(len(categories)):
        ax.axhline(k + 1, color=grid_col, lw=1.1, zorder=0)
    for k, cat in enumerate(categories):
        pts = panel_data[i][k]
        xs = [p[0] for p in pts]
        ys = [k + 1 + p[1] for p in pts]
        ax.scatter(xs, ys, s=50, facecolors="none", edgecolors=colors[k],
                   linewidths=1.05, zorder=3)
    ax.set_xticks(x_ticks)
    ax.set_yticks(range(1, len(categories) + 1))
    ax.tick_params(length=0, colors="#4D4D4D", labelsize=12.5)
    if r == 1:
        ax.set_xticklabels(x_tick_labels)
        ax.tick_params(axis="x", pad=3)
    else:
        ax.set_xticklabels([])
    if c == 0:
        ax.set_yticklabels(categories)
        ax.tick_params(axis="y", pad=7)
    else:
        ax.set_yticklabels([])
    ax.set_title(name, fontsize=12, color="#1A1A1A", pad=8)

fig.savefig("out.png", dpi=100, facecolor="white")
